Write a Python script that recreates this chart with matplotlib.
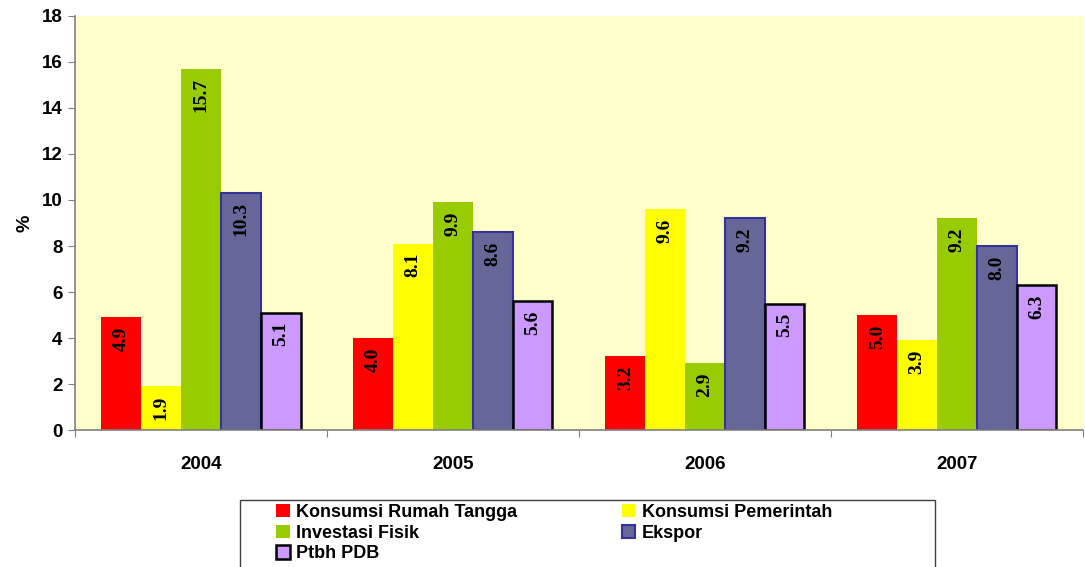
import matplotlib.pyplot as plt
from matplotlib.patches import Rectangle
import numpy as np

years = ['2004', '2005', '2006', '2007']
series = ['Konsumsi Rumah Tangga', 'Konsumsi Pemerintah', 'Investasi Fisik', 'Ekspor', 'Ptbh PDB']
konsumsi_rt = [4.9, 4.0, 3.2, 5.0]
konsumsi_pem = [1.9, 8.1, 9.6, 3.9]
investasi = [15.7, 9.9, 2.9, 9.2]
ekspor = [10.3, 8.6, 9.2, 8.0]
ptbh_pdb = [5.1, 5.6, 5.5, 6.3]
values = [konsumsi_rt, konsumsi_pem, investasi, ekspor, ptbh_pdb]

colors = ['#FF0000', '#FFFF00', '#99CC00', '#666699', '#CC99FF']
edges = ['#FF0000', '#FFFF00', '#99CC00', '#333399', '#000000']
lws = [0, 0, 0, 1.5, 1.8]

plt.rcParams['font.family'] = ['Liberation Sans', 'DejaVu Sans']

fig = plt.figure(figsize=(10.85, 5.67), dpi=100)
ax = fig.add_axes([0.0691, 0.2416, 0.929, 0.7302])
ax.set_facecolor('#FFFFCC')

x = np.arange(len(years))
w = 0.158
handles = []
for i, (name, vals) in enumerate(zip(series, values)):
    pos = x + (i - 2) * w
    b = ax.bar(pos, vals, width=w, color=colors[i], edgecolor=edges[i],
               linewidth=lws[i], label=name, zorder=2)
    handles.append(b)
    for p, v in zip(pos, vals):
        ax.text(p, v - 0.4, f'{v:.1f}', rotation=90, ha='center', va='top',
                family='Liberation Serif', fontweight='bold', fontsize=14,
                zorder=3)

ax.set_xlim(-0.5, 3.5)
ax.set_ylim(0, 18)
ax.set_yticks(range(0, 19, 2))
ax.set_yticklabels([str(t) for t in range(0, 19, 2)], fontsize=13.5, fontweight='bold')
ax.set_xticks(np.arange(-0.5, 3.6, 1))
ax.set_xticklabels([])
ax.set_xticks(x, minor=True)
ax.set_xticklabels(years, minor=True, fontsize=13.5, fontweight='bold')
ax.tick_params(axis='x', which='minor', length=0, pad=19)
ax.tick_params(axis='x', which='major', length=5, color='#808080')
ax.tick_params(axis='y', length=5, color='#808080', pad=4)
ax.set_ylabel('%', fontsize=14, fontweight='bold', labelpad=6)

for s in ['top', 'right']:
    ax.spines[s].set_visible(False)
for s in ['left', 'bottom']:
    ax.spines[s].set_color('#808080')
    ax.spines[s].set_linewidth(1.2)

# legend in row order: column 1 = items 0, 2, 4; column 2 = items 1, 3
order = [0, 2, 4, 1, 3]
leg = fig.legend([handles[k] for k in order], [series[k] for k in order],
                 loc='upper left', bbox_to_anchor=(276 / 1085, 1 - 504 / 567),
                 ncol=2, frameon=False,
                 prop={'weight': 'bold', 'size': 13},
                 handlelength=0.75, handleheight=0.75, handletextpad=0.35,
                 labelspacing=0.2, borderpad=0, borderaxespad=0,
                 columnspacing=5.8)
fig.patches.append(Rectangle((240 / 1085, -0.05), 695 / 1085, 1 - 500 / 567 + 0.05,
                             transform=fig.transFigure, fill=False,
                             edgecolor='#404040', linewidth=1.0))

fig.savefig('out.png', dpi=100)
